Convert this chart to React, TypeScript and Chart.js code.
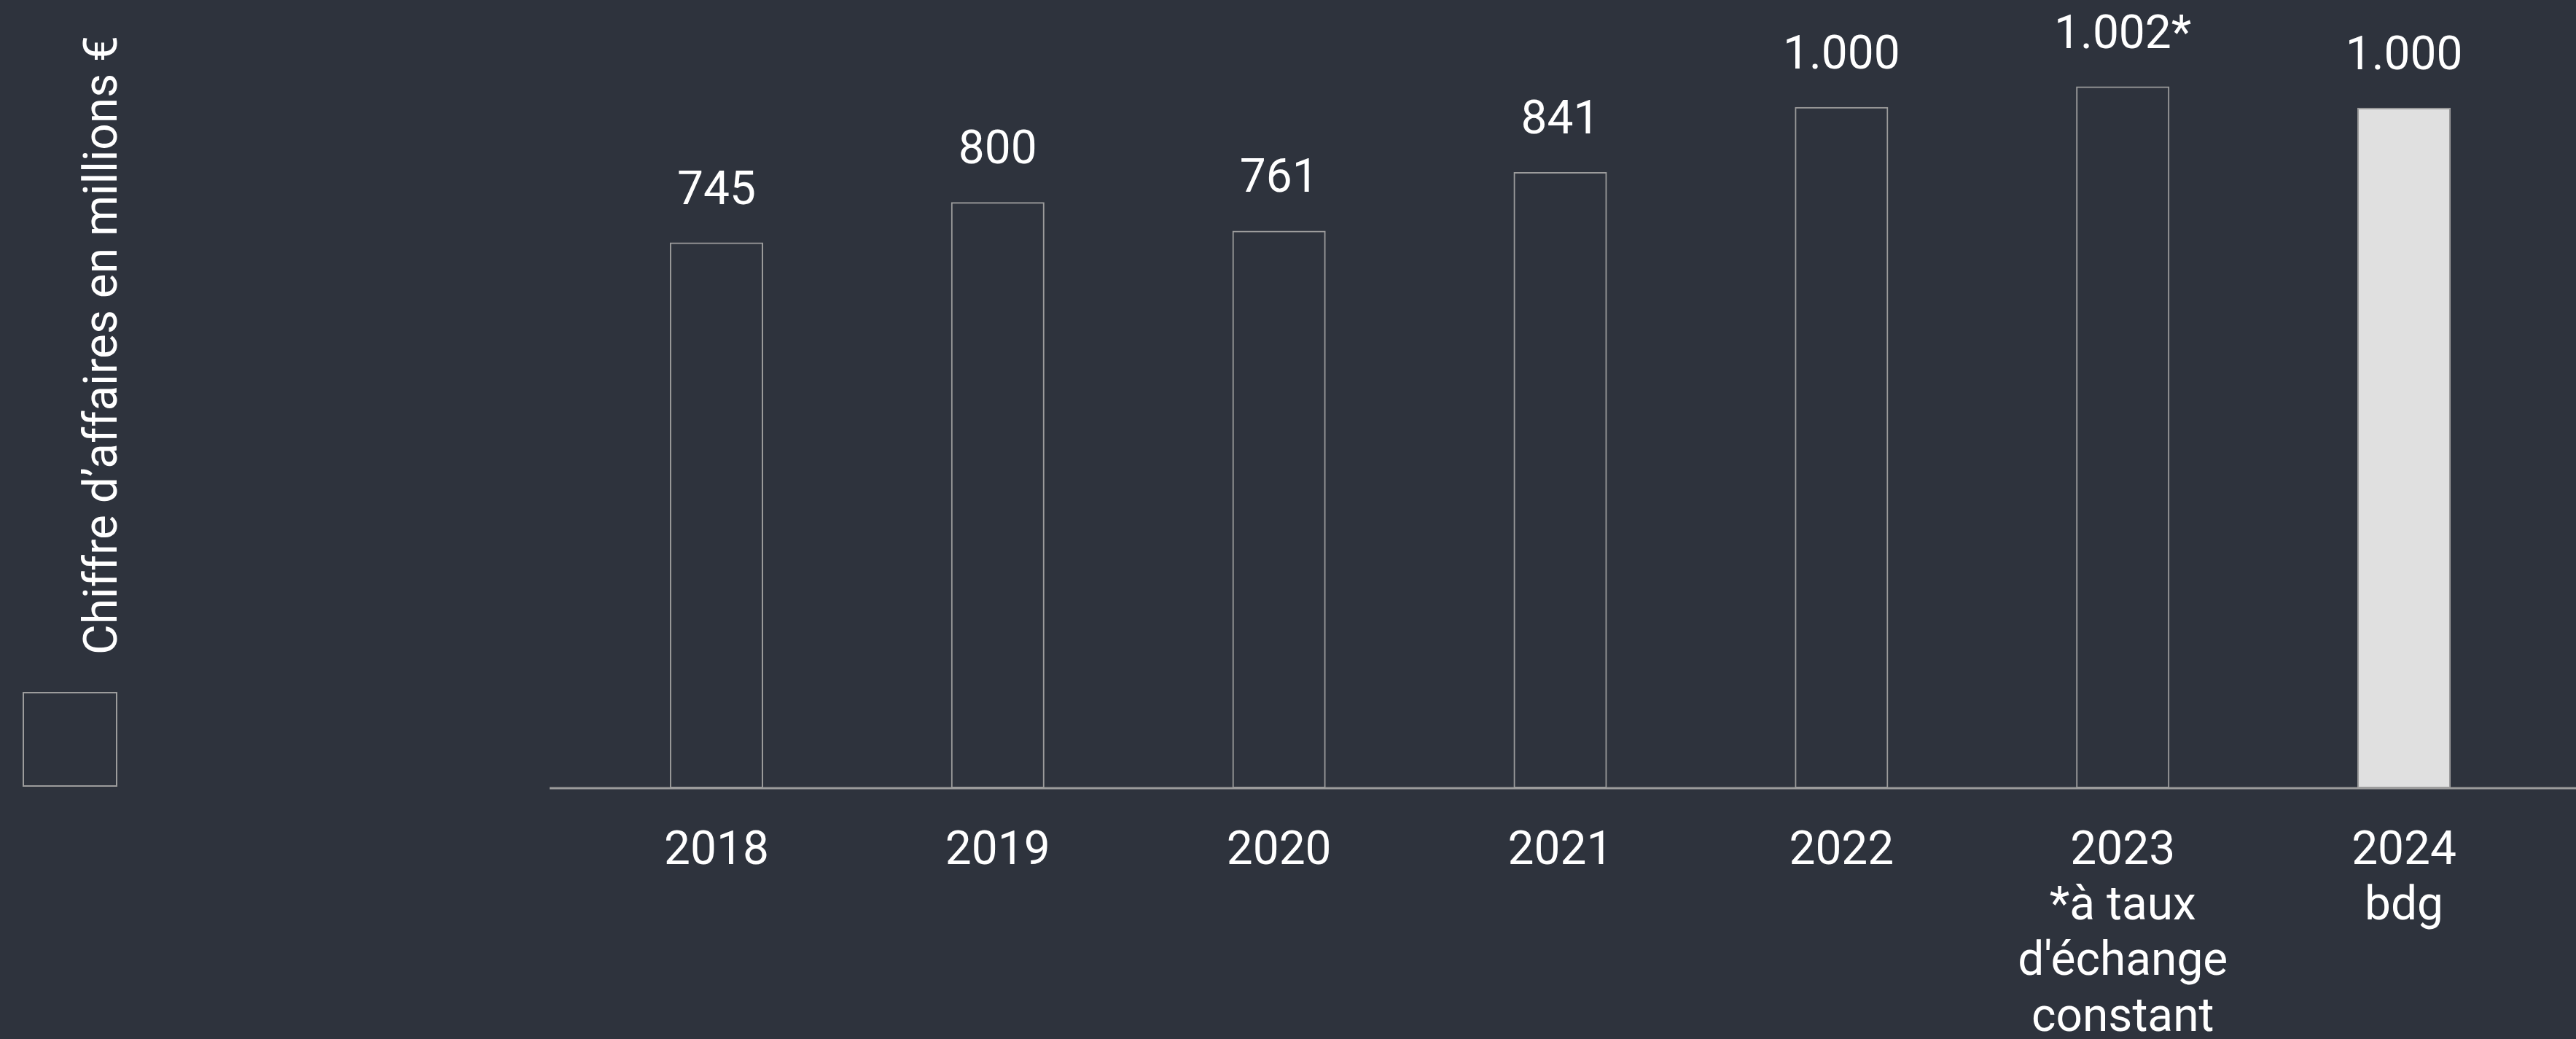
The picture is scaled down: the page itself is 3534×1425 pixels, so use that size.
import React, { useEffect, useRef } from "react";
import { Chart, registerables } from "chart.js";

Chart.register(...registerables);

const categories: (string | string[])[] = [
  "2018",
  "2019",
  "2020",
  "2021",
  "2022",
  ["2023", "*à taux", "d'échange", "constant"],
  ["2024", "bdg"],
];
const revenue = [745, 800, 761, 841, 930, 958, 929];
const valueLabels = ["745", "800", "761", "841", "1.000", "1.002*", "1.000"];
const seriesLabel = "Chiffre d’affaires en millions €";

const BG = "#2e333d";
const STROKE = "#9c9c9c";
const FILL_BUDGET = "#e0e0e0";
const TEXT = "#ffffff";
const FONT = "Roboto";

export default function App() {
  const ref = useRef<HTMLCanvasElement | null>(null);

  useEffect(() => {
    document.body.style.margin = "0";
    document.body.style.background = BG;
    if (!ref.current) return;

    const customDraw = {
      id: "customDraw",
      afterDatasetsDraw(chart: any) {
        const ctx = chart.ctx;
        const yScale = chart.scales.y;
        const meta = chart.getDatasetMeta(0);
        // baseline
        const y0 = yScale.getPixelForValue(0);
        ctx.save();
        ctx.strokeStyle = STROKE;
        ctx.lineWidth = 3;
        ctx.beginPath();
        ctx.moveTo(754, y0);
        ctx.lineTo(chart.width, y0);
        ctx.stroke();
        // value labels
        ctx.fillStyle = TEXT;
        ctx.font = `64px ${FONT}`;
        ctx.textAlign = "center";
        ctx.textBaseline = "alphabetic";
        meta.data.forEach((bar: any, i: number) => {
          ctx.fillText(valueLabels[i], bar.x, bar.y - 53);
        });
        // legend (box + rotated text)
        ctx.strokeStyle = STROKE;
        ctx.lineWidth = 2;
        ctx.strokeRect(32, 950, 128, 128);
        ctx.translate(160, 898);
        ctx.rotate(-Math.PI / 2);
        ctx.textAlign = "left";
        ctx.fillText(chart.data.datasets[0].label, 0, 0);
        ctx.restore();
      },
    };

    const chart = new Chart(ref.current, {
      type: "bar",
      data: {
        labels: categories,
        datasets: [
          {
            label: seriesLabel,
            data: revenue,
            backgroundColor: revenue.map((_, i) =>
              i === revenue.length - 1 ? FILL_BUDGET : "rgba(0,0,0,0)"
            ),
            borderColor: STROKE,
            borderWidth: 2,
            borderSkipped: false,
            categoryPercentage: 1,
            barPercentage: 0.332,
          },
        ],
      },
      options: {
        responsive: false,
        animation: false,
        devicePixelRatio: 1,
        layout: { padding: { left: 790, right: 43, top: 0, bottom: 0 } },
        plugins: {
          legend: { display: false },
          tooltip: { enabled: false },
        },
        scales: {
          x: {
            grid: { display: false, drawTicks: false },
            border: { display: false },
            ticks: {
              color: TEXT,
              padding: 50,
              maxRotation: 0,
              autoSkip: false,
              font: { family: FONT, size: 64, lineHeight: 1.19 },
            },
            afterFit: (scale: any) => {
              scale.height = 344;
            },
          },
          y: {
            display: false,
            min: 0,
            max: 1076,
          },
        },
      },
      plugins: [customDraw],
    });

    return () => chart.destroy();
  }, []);

  return (
    <div
      style={{
        position: "fixed",
        left: 0,
        top: 0,
        width: 3534,
        height: 1425,
        background: BG,
      }}
    >
      <canvas ref={ref} width={3534} height={1425} style={{ display: "block" }} />
    </div>
  );
}
